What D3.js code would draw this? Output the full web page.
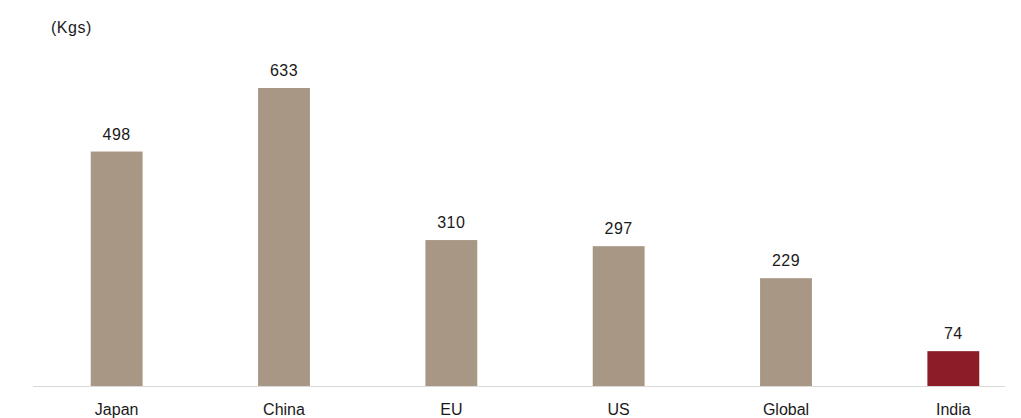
<!DOCTYPE html>
<html>
<head>
<meta charset="utf-8">
<script src="https://cdn.jsdelivr.net/npm/d3@7"></script>
<style>
  body{margin:0;background:#fff;}
  text{font-family:"Liberation Sans",Arial,sans-serif;fill:#1a1a1a;}
</style>
</head>
<body>
<svg id="chart" width="1021" height="418"></svg>
<script>
const categories=["Japan","China","EU","US","Global","India"];
const values=[498,633,310,297,229,74];
const highlight=["India"];
const unitLabel="(Kgs)";

const svg=d3.select("#chart");
const baseY=386;

const x=d3.scaleBand()
  .domain(categories)
  .range([33,1037])
  .paddingInner(0.69)
  .paddingOuter(0.345);

const y=d3.scaleLinear()
  .domain([0,633])
  .range([baseY,88]);

// unit label
svg.append("text")
  .attr("x",51)
  .attr("y",33)
  .style("font-size","16px")
  .style("letter-spacing","0.5px")
  .text(unitLabel);

// bars
svg.append("g")
  .selectAll("rect")
  .data(categories)
  .enter()
    .append("rect")
    .attr("x",(d)=>x(d))
    .attr("y",(d,i)=>y(values[i]))
    .attr("width",x.bandwidth())
    .attr("height",(d,i)=>baseY-y(values[i]))
    .attr("fill",(d)=>highlight.includes(d)?"#8c1c25":"#a89784");

// baseline
svg.append("line")
  .attr("x1",33)
  .attr("x2",1005)
  .attr("y1",baseY+0.5)
  .attr("y2",baseY+0.5)
  .attr("stroke","#d9d9d9")
  .attr("stroke-width",1);

// value labels
svg.append("g")
  .selectAll("text")
  .data(categories)
  .enter()
    .append("text")
    .attr("x",(d)=>x(d)+x.bandwidth()/2)
    .attr("y",(d,i)=>y(values[i])-12)
    .attr("text-anchor","middle")
    .style("font-size","16px")
    .style("letter-spacing","0.5px")
    .text((d,i)=>values[i]);

// category axis
const axis=svg.append("g")
  .attr("transform",`translate(0,${baseY})`)
  .call(d3.axisBottom(x).tickSize(0).tickPadding(0));
axis.select(".domain").remove();
axis.selectAll("text")
  .attr("y",29)
  .attr("dy",0)
  .style("font-size","16px")
  .style("font-family","\"Liberation Sans\",Arial,sans-serif")
  .style("fill","#1a1a1a");
</script>
</body>
</html>
